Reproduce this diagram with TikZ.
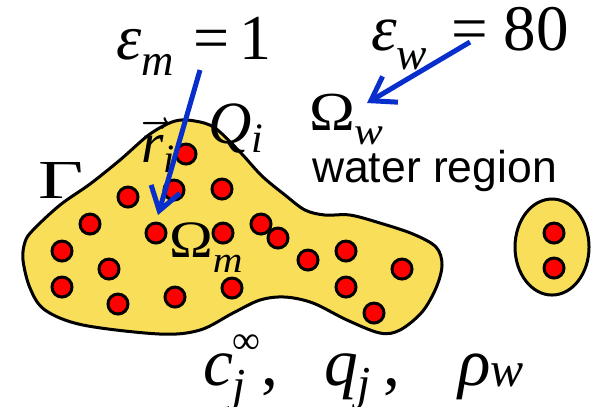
\documentclass[tikz,border=0pt]{standalone}
\usepackage{amsmath}
\usepackage{graphicx}
\usepackage{fontspec}
\newfontfamily\arialfont{Liberation Sans}
\newfontfamily\timesfont{Liberation Serif}
\usetikzlibrary{arrows.meta,shapes.geometric}

\definecolor{blobyellow}{RGB}{249,222,89}
\definecolor{chargered}{RGB}{255,0,0}
\definecolor{arrowblue}{RGB}{8,46,204}

% pedici e apici abbassati/alzati come nella figura
\newcommand{\lsub}[2][0.26em]{\raisebox{-#1}{\scalebox{0.7}{\itshape #2}}}
\newcommand{\lsup}[2][0.45em]{\raisebox{#1}{\scalebox{0.58}{\upshape #2}}}

\begin{document}
\begin{tikzpicture}[
    x=0.2pt, y=-0.2pt,
    lab/.style={inner sep=0pt, anchor=base west, transform shape},
    tsym/.style={lab, font=\timesfont\fontsize{#1}{#1}\selectfont\itshape},
    charge/.style={circle, draw=black, line width=0.6pt, fill=chargered,
                   inner sep=0pt, minimum size=4pt},
    region/.style={draw=black, line width=0.6pt, fill=blobyellow},
    pointer/.style={draw=arrowblue, line width=1pt,
                    -{Straight Barb[length=4.5pt,width=6pt,line width=1pt]}},
  ]
  \useasboundingbox (0,0) rectangle (595,406);

  % ============ Molecola (regione Omega_m) ============
  \path[region] plot[smooth cycle, tension=0.55] coordinates {
      (25,242) (33,230) (60,205) (90,184) (120,160) (150,134) (175,121)
      (195,121) (215,128) (240,152) (262,176) (285,195) (305,210)
      (325,215) (350,215) (380,223) (413,234) (436,247) (442,265)
      (436,288) (422,312) (400,330) (380,333) (347,320) (313,303)
      (285,297) (260,300) (233,313) (200,330) (160,334) (83,325)
      (45,310) (30,288) (23,260)};
  \node[region, ellipse, minimum width=14.8pt, minimum height=19.2pt,
        inner sep=0pt] (ion) at (552,247) {};

  % cariche parziali
  \foreach \x/\y [count=\k] in {186/154, 174/190, 222/189, 128/197, 90/224,
      156/233, 223/233, 261/224, 278/238, 62/251, 109/269, 308/260,
      346/251, 402/269, 62/287, 118/304, 175/297, 232/288, 346/287,
      374/313}
    \node[charge] (q\k) at (\x,\y) {};
  \node[charge] (ionA) at (554,233) {};
  \node[charge] (ionB) at (554,268) {};

  % ============ Etichette ============
  \node[tsym=12.8] (epsm) at (115,59)
        {ε\lsub{m}\hspace{4pt}\upshape=\hspace{2pt}1};
  \node[tsym=13] (epsw) at (370,50)
        {ε\lsub[0.3em]{w}\hspace{5pt}\upshape=\hspace{3pt}80};
  \node[tsym=11, xscale=1.12] (omegaw) at (308,130)
        {\upshape Ω\lsub[0.27em]{w}};
  \node[lab, font=\arialfont\fontsize{8.9}{10}\selectfont] (water) at (311,182)
        {water region};
  \node[tsym=11, xscale=1.42] (gamma) at (37,198) {\upshape Γ};
  \node[tsym=12] (Qi) at (207,143) {Q\lsub[0.16em]{i}};
  \node[tsym=11.5] (ri) at (140,162) {$\vec{\hbox{r}}$\lsub[0.18em]{i}};
  \node[tsym=10.5, xscale=1.12] (omegam) at (168,257)
        {\upshape Ω\lsub[0.3em]{m}};

  \node[tsym=13.5] (cinf) at (202,385)
        {c\makebox[0pt][l]{\lsup[0.46em]{∞}}\lsub[0.24em]{j}\hspace{3pt}\upshape,};
  \node[tsym=13.5] (qj) at (323,385) {q\lsub[0.22em]{j}\hspace{2.5pt}\upshape,};
  \node[tsym=13.5] (rhow) at (457,385) {ρ\lsub[0.02em]{\scalebox{1.05}{w}}};

  % ============ Frecce ============
  \coordinate (epsmTail) at (200,70);
  \coordinate (epsmHead) at (158,215);
  \coordinate (epswTail) at (470,42);
  \coordinate (epswHead) at (367,103);
  \draw[pointer] (epsmTail) -- (epsmHead);
  \draw[pointer] (epswTail) -- (epswHead);

\end{tikzpicture}
\end{document}
